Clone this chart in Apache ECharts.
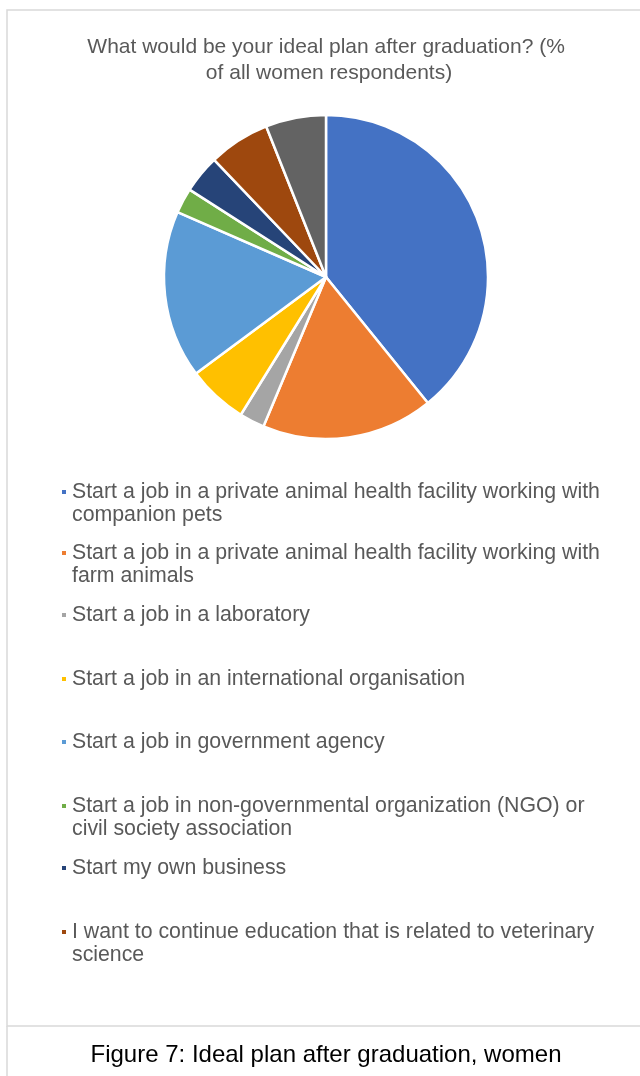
<!DOCTYPE html>
<html>
<head>
<meta charset="utf-8">
<style>
  html, body { margin: 0; padding: 0; background: #ffffff; }
  #chart { width: 640px; height: 1076px; }
</style>
<script src="https://cdn.jsdelivr.net/npm/echarts@6/dist/echarts.min.js"></script>
</head>
<body>
<div id="chart"></div>
<script>
// Answer categories (the last one has no legend entry)
const categories = [
  'Start a job in a private animal health facility working with companion pets',
  'Start a job in a private animal health facility working with farm animals',
  'Start a job in a laboratory',
  'Start a job in an international organisation',
  'Start a job in government agency',
  'Start a job in non-governmental organization (NGO) or civil society association',
  'Start my own business',
  'I want to continue education that is related to veterinary science',
  'Other'
];
// Share of all women respondents, %
const shares = [39.1, 17.1, 2.5, 6.0, 16.7, 2.5, 3.8, 6.1, 6.0];
const sliceColors = ['#4472C4', '#ED7D31', '#A5A5A5', '#FFC000', '#5B9BD5',
                     '#70AD47', '#264478', '#9E480E', '#636363'];
const legendCount = 8;
const legendFirstLineY = [492, 553, 615, 679, 742, 806, 868, 932];

const FONT = '"Liberation Sans", Arial, sans-serif';
const LEGEND_SIZE = 21.3;
const LINE_H = 23;
const WRAP_W = 545;
const MARK = 6;

// Greedy word wrap so every legend label knows its own line count
const measureCtx = document.createElement('canvas').getContext('2d');
measureCtx.font = LEGEND_SIZE + 'px ' + FONT;
function wrap(text) {
  const words = text.split(' ');
  const lines = [];
  let cur = '';
  words.forEach(w => {
    const trial = cur ? cur + ' ' + w : w;
    if (cur && measureCtx.measureText(trial).width > WRAP_W) {
      lines.push(cur);
      cur = w;
    } else {
      cur = trial;
    }
  });
  if (cur) lines.push(cur);
  return lines;
}

const chart = echarts.init(document.getElementById('chart'), null, { renderer: 'canvas' });

const legends = [];
for (let i = 0; i < legendCount; i++) {
  const lines = wrap(categories[i]);
  // marker sits beside the first line: pad the icon box downward so its
  // centre lines up with the centre of the whole text block
  const extra = (lines.length - 1) * LINE_H;
  const iconH = MARK + extra;
  const icon = extra > 0
    ? 'path://M0,0h' + MARK + 'v' + MARK + 'h-' + MARK + 'z M0,' + iconH + 'h0.001v-0.001z'
    : 'rect';
  legends.push({
    data: [categories[i]],
    left: 60,
    top: legendFirstLineY[i] - LINE_H / 2,
    padding: 0,
    orient: 'vertical',
    icon: icon,
    itemWidth: MARK,
    itemHeight: iconH,
    itemGap: 0,
    selectedMode: false,
    formatter: () => lines.join('\n'),
    textStyle: {
      fontFamily: FONT,
      fontSize: LEGEND_SIZE,
      color: '#595959',
      lineHeight: LINE_H
    }
  });
}

chart.setOption({
  backgroundColor: '#ffffff',
  animation: false,
  title: [
    {
      text: 'What would be your ideal plan after graduation? (% of all women respondents)',
      left: 324,
      top: 29,
      textAlign: 'center',
      textStyle: {
        fontFamily: FONT,
        fontSize: 21,
        fontWeight: 'normal',
        color: '#595959',
        lineHeight: 26,
        width: 495,
        overflow: 'break'
      }
    },
    {
      text: 'Figure 7: Ideal plan after graduation, women',
      left: 321,
      top: 1038,
      textAlign: 'center',
      textStyle: {
        fontFamily: FONT,
        fontSize: 24,
        fontWeight: 'normal',
        color: '#000000'
      }
    }
  ],
  legend: legends,
  graphic: [
    {
      type: 'rect',
      shape: { x: 7, y: 10, width: 660, height: 1016 },
      style: { fill: 'none', stroke: '#d9d9d9', lineWidth: 1.5 },
      silent: true
    },
    {
      type: 'line',
      shape: { x1: 7, y1: 1026, x2: 7, y2: 1076 },
      style: { stroke: '#d9d9d9', lineWidth: 1.5 },
      silent: true
    }
  ],
  series: [{
    type: 'pie',
    center: [326, 277],
    radius: 162,
    startAngle: 90,
    clockwise: true,
    label: { show: false },
    labelLine: { show: false },
    emphasis: { disabled: true },
    itemStyle: { borderColor: '#ffffff', borderWidth: 2.5 },
    data: categories.map((name, i) => ({
      name: name,
      value: shares[i],
      itemStyle: { color: sliceColors[i] }
    }))
  }]
});
</script>
</body>
</html>
